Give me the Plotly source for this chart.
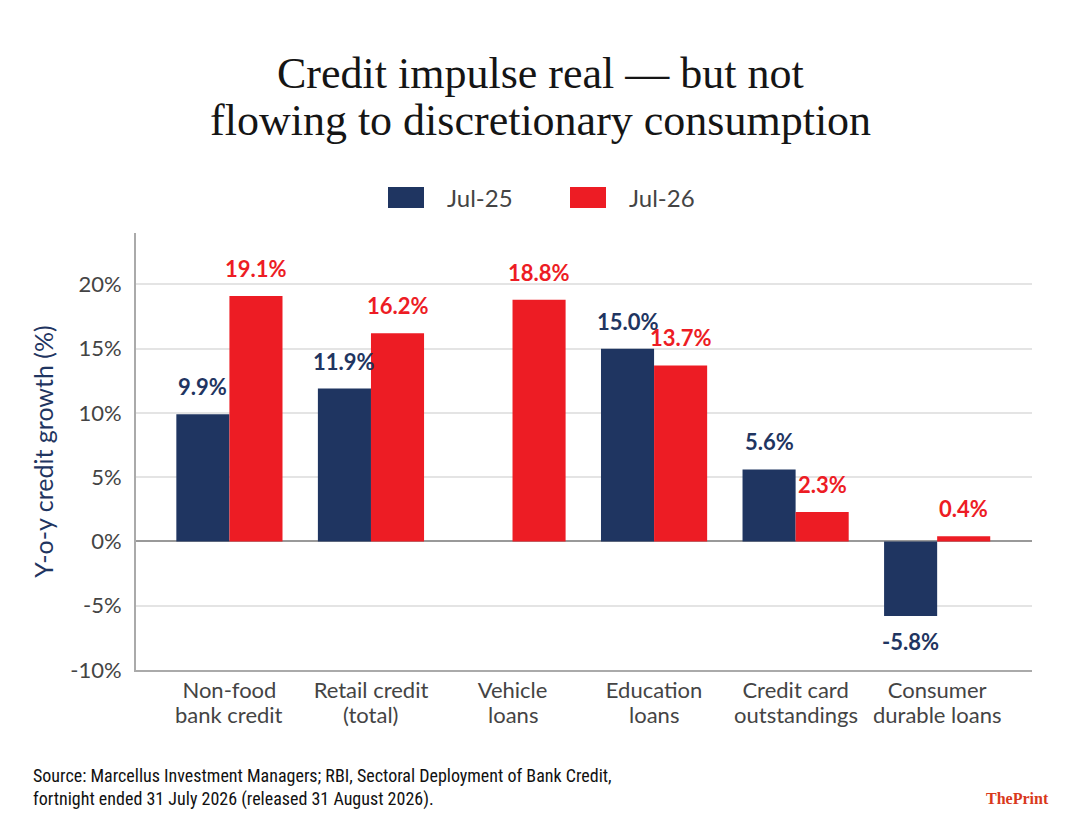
import plotly.graph_objects as go

# %%
categories = ["Non-food<br>bank credit", "Retail credit<br>(total)", "Vehicle<br>loans",
              "Education<br>loans", "Credit card<br>outstandings", "Consumer<br>durable loans"]
jul25 = [9.9, 11.9, None, 15.0, 5.6, -5.8]
jul26 = [19.1, 16.2, 18.8, 13.7, 2.3, 0.4]
series_names = ["Jul-25", "Jul-26"]
y_ticks = [-10, -5, 0, 5, 10, 15, 20]
y_tick_text = ["-10%", "-5%", "0%", "5%", "10%", "15%", "20%"]

navy = "#1f3561"
red = "#ed1c24"
label_font = "Lato, Open Sans, sans-serif"
serif = "Liberation Serif, DejaVu Serif, serif"

# page shows the figure shifted by the body margin, compensate
OFF = 8
L, R, T, B = 136 - OFF, 1080 - 1032 + OFF, 233 - OFF, 835 - 670 + OFF
PW, PH = 1080 - L - R, 835 - T - B


def px(x):
    return (x - OFF - L) / PW


def py(y):
    return (835 - B - (y - OFF)) / PH


# %%
fig = go.Figure()
bar_w = 0.375
xs = list(range(len(categories)))
for k, (name, vals, col) in enumerate([(series_names[0], jul25, navy), (series_names[1], jul26, red)]):
    fig.add_trace(go.Bar(
        x=xs, y=vals, name=name,
        marker=dict(color=col, line=dict(width=0)),
        showlegend=False,
    ))
    shift = (k - 0.5) * bar_w
    for i, v in zip(xs, vals):
        if v is None:
            continue
        fig.add_annotation(
            x=i + shift, y=v, text=f"{v:.1f}%", showarrow=False,
            xanchor="center", yanchor="bottom" if v >= 0 else "top",
            yshift=12 if v >= 0 else -10,
            font=dict(family=label_font, size=22, color=col, weight="bold"),
        )

fig.update_layout(
    width=1080, height=835,
    paper_bgcolor="white", plot_bgcolor="white",
    barmode="group", bargap=0.25, bargroupgap=0,
    margin=dict(l=L, r=R, t=T, b=B),
    font=dict(family=label_font, color="#444444"),
)

# category labels: first line as tick label, second line tighter underneath
first_lines = [c.split("<br>")[0] for c in categories]
second_lines = [c.split("<br>")[1] for c in categories]
fig.update_xaxes(
    tickvals=xs, ticktext=first_lines,
    range=[-0.66, 5.67],
    showgrid=False, showline=True, linecolor="#aaaaaa", linewidth=2,
    ticks="", tickfont=dict(size=22, color="#444444"),
)
for i, s in zip(xs, second_lines):
    fig.add_annotation(text=s, xref="x", yref="paper", x=i, y=py(714),
                       xanchor="center", yanchor="middle", showarrow=False,
                       font=dict(size=22, color="#444444"))

fig.update_yaxes(
    range=[-10, 24], tickvals=y_ticks, ticktext=y_tick_text,
    showgrid=True, gridcolor="#e4e4e4", gridwidth=2,
    zeroline=True, zerolinecolor="#999999", zerolinewidth=2,
    showline=True, linecolor="#aaaaaa", linewidth=2,
    ticks="", ticklabelstandoff=8,
    tickfont=dict(size=22, color="#444444"),
    title=dict(text="Y-o-y credit growth (%)", standoff=10,
               font=dict(size=25, color=navy)),
)

# title, two lines
for txt, yy in [("Credit impulse real — but not", 73), ("flowing to discretionary consumption", 120)]:
    fig.add_annotation(text=txt, xref="paper", yref="paper", x=px(540), y=py(yy),
                       xanchor="center", yanchor="middle", showarrow=False,
                       font=dict(family=serif, size=44, color="#151515"))

# legend drawn as swatches + labels
for i, (name, col) in enumerate([(series_names[0], navy), (series_names[1], red)]):
    x0 = 388 + i * 182
    fig.add_shape(type="rect", xref="paper", yref="paper",
                  x0=px(x0), x1=px(x0 + 36), y0=py(208), y1=py(187),
                  fillcolor=col, line=dict(width=0))
    fig.add_annotation(text=name, xref="paper", yref="paper",
                       x=px(x0 + 57), y=py(198),
                       xanchor="left", yanchor="middle", showarrow=False,
                       font=dict(size=24, color="#444444"))

fig.add_annotation(
    text="Source: Marcellus Investment Managers; RBI, Sectoral Deployment of Bank Credit,<br>"
         "fortnight ended 31 July 2026 (released 31 August 2026).",
    xref="paper", yref="paper", x=px(31), y=py(787),
    xanchor="left", yanchor="middle", align="left", showarrow=False,
    font=dict(family="Liberation Sans Narrow, Roboto Condensed, Liberation Sans, sans-serif",
              size=18, color="#111111"),
)
fig.add_annotation(
    text="<b>ThePrint</b>", xref="paper", yref="paper",
    x=px(1017), y=py(798),
    xanchor="center", yanchor="middle", showarrow=False,
    font=dict(family=serif, size=16, color="#d9391c"),
)

fig.write_html("out.html")
